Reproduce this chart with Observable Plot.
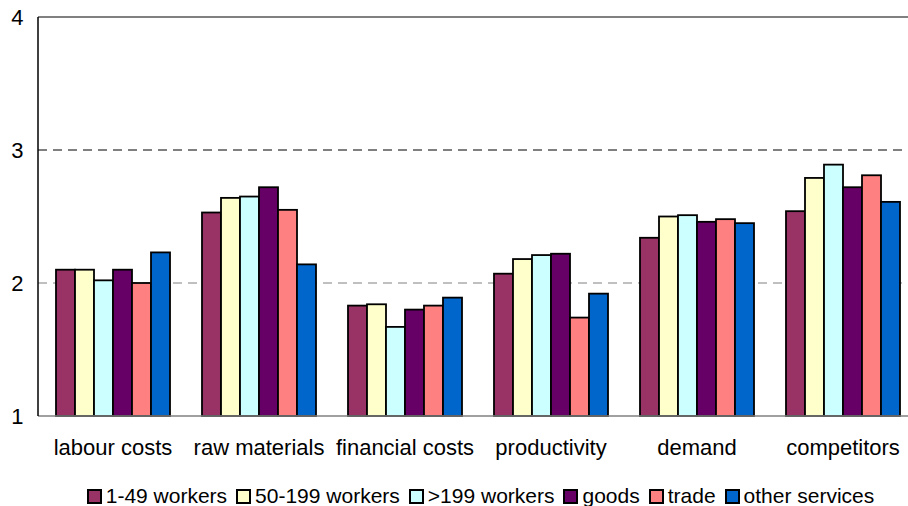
<!DOCTYPE html>
<html>
<head>
<meta charset="utf-8">
<script src="https://cdn.jsdelivr.net/npm/d3@7"></script>
<script src="https://cdn.jsdelivr.net/npm/@observablehq/plot@0.6"></script>
<style>
  html, body { margin: 0; padding: 0; background: white; }
  #chart { width: 908px; }
  .legend { display: flex; justify-content: center; align-items: center; margin-top: 4px; padding-left: 62px; font-family: "Liberation Sans", Arial, sans-serif; font-size: 21px; line-height: 24px; color: black; }
  .legend span.item { display: inline-flex; align-items: center; margin-right: 9px; }
  .legend span.sw { display: inline-block; width: 11px; height: 11px; border: 2px solid black; margin-right: 4px; }
</style>
</head>
<body>
<div id="chart"></div>
<script>
const categories = ["labour costs", "raw materials", "financial costs", "productivity", "demand", "competitors"];
const series = ["1-49 workers", "50-199 workers", ">199 workers", "goods", "trade", "other services"];
const colors = ["#993366", "#FFFFCC", "#CCFFFF", "#660066", "#FF8080", "#0066CC"];
// values per series, in category order
const v_1_49     = [2.10, 2.53, 1.83, 2.07, 2.34, 2.54];
const v_50_199   = [2.10, 2.64, 1.84, 2.18, 2.50, 2.79];
const v_199plus  = [2.02, 2.65, 1.67, 2.21, 2.51, 2.89];
const v_goods    = [2.10, 2.72, 1.80, 2.22, 2.46, 2.72];
const v_trade    = [2.00, 2.55, 1.83, 1.74, 2.48, 2.81];
const v_other    = [2.23, 2.14, 1.89, 1.92, 2.45, 2.61];
const yTicks = [1, 2, 3, 4];
const dashedGrid = [2, 3];

const seriesValues = [v_1_49, v_50_199, v_199plus, v_goods, v_trade, v_other];
const data = [];
categories.forEach((c, i) => {
  series.forEach((s, j) => data.push({category: c, series: s, value: seriesValues[j][i]}));
});

const W = 908, H = 480, ML = 38, MT = 17, MB = 64;

const chart = Plot.plot({
  width: W,
  height: H,
  marginTop: MT,
  marginBottom: MB,
  marginLeft: ML,
  marginRight: -10,
  style: {fontFamily: "'Liberation Sans', Arial, sans-serif", fontSize: "22px", color: "black", background: "white", overflow: "visible"},
  y: {domain: [1, 4], label: null},
  fx: {domain: categories, paddingInner: 0.196, paddingOuter: 0.1, label: null},
  x: {domain: series, padding: 0, axis: null},
  color: {domain: series, range: colors},
  marks: [
    Plot.barY(data, {fx: "category", x: "series", y1: 1, y2: "value", fill: "series", stroke: "black", strokeWidth: 1.8}),
    Plot.axisY(yTicks, {tickSize: 0, tickPadding: 31, tickFormat: d => String(d), label: null, fontSize: 22}),
    Plot.axisFx({anchor: "bottom", tickSize: 0, tickPadding: 23, label: null, fontSize: 22})
  ]
});
document.getElementById("chart").appendChild(chart);

// continuous gridlines / frame lines across facets, positioned with the plot's y scale
const ys = chart.scale("y");
const svgSel = d3.select(chart);
const gridG = svgSel.insert("g", ":scope > g");
dashedGrid.forEach(v => {
  gridG.append("line").attr("x1", ML).attr("x2", W).attr("y1", ys.apply(v)).attr("y2", ys.apply(v))
    .attr("stroke", v === 3 ? "black" : "#808080").attr("stroke-dasharray", "9,6").attr("stroke-width", 1);
});
gridG.append("line").attr("x1", ML).attr("x2", W).attr("y1", ys.apply(4)).attr("y2", ys.apply(4))
  .attr("stroke", "#808080").attr("stroke-width", 2);
const overG = svgSel.append("g");
overG.append("line").attr("x1", ML).attr("x2", W).attr("y1", ys.apply(1)).attr("y2", ys.apply(1))
  .attr("stroke", "#808080").attr("stroke-width", 1.5);
overG.append("line").attr("x1", ML).attr("x2", ML).attr("y1", ys.apply(4)).attr("y2", ys.apply(1))
  .attr("stroke", "black").attr("stroke-width", 1.5);

const legend = document.createElement("div");
legend.className = "legend";
series.forEach((s, j) => {
  const item = document.createElement("span");
  item.className = "item";
  const sw = document.createElement("span");
  sw.className = "sw";
  sw.style.background = colors[j];
  item.appendChild(sw);
  item.appendChild(document.createTextNode(s));
  legend.appendChild(item);
});
document.getElementById("chart").appendChild(legend);
</script>
</body>
</html>
